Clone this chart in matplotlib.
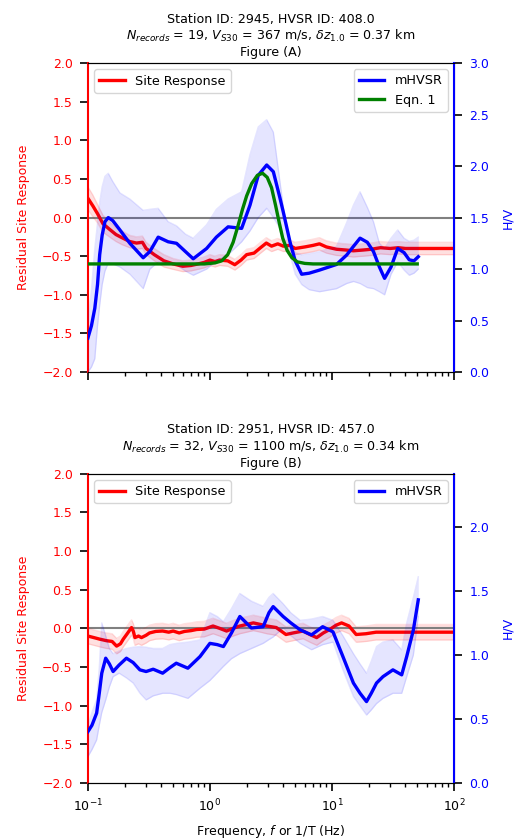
import numpy as np
import matplotlib.pyplot as plt

# ---------------- Figure (A): station 2945 ----------------
a_sr_f = [0.1, 0.11, 0.12, 0.133, 0.15, 0.17, 0.19, 0.22, 0.25, 0.28, 0.3, 0.35, 0.42,
          0.5, 0.6, 0.7, 0.8, 0.9, 1.0, 1.1, 1.2, 1.4, 1.6, 1.8, 2.0, 2.3, 2.6, 2.9,
          3.2, 3.6, 4.0, 4.5, 5.0, 6.0, 7.0, 7.9, 9.0, 10.9, 13.0, 15.0, 18.0, 21.0,
          25.0, 30.0, 35.0, 40.0, 50.0, 70.0, 100.0]
a_sr_v = [0.25, 0.15, 0.05, -0.08, -0.15, -0.22, -0.26, -0.31, -0.33, -0.32, -0.40, -0.48, -0.56,
          -0.60, -0.63, -0.62, -0.60, -0.58, -0.55, -0.57, -0.55, -0.56, -0.61, -0.55, -0.48, -0.46, -0.39, -0.33,
          -0.37, -0.34, -0.37, -0.36, -0.40, -0.38, -0.36, -0.34, -0.38, -0.41, -0.42, -0.43, -0.42, -0.41,
          -0.39, -0.40, -0.39, -0.40, -0.40, -0.40, -0.40]
a_sr_sd = [0.15, 0.14, 0.12, 0.11, 0.10, 0.09, 0.09, 0.08, 0.08, 0.08, 0.08, 0.08, 0.08,
           0.07, 0.07, 0.07, 0.07, 0.07, 0.07, 0.07, 0.07, 0.07, 0.07, 0.07, 0.07, 0.07, 0.07, 0.07,
           0.07, 0.07, 0.07, 0.07, 0.08, 0.08, 0.08, 0.08, 0.08, 0.08, 0.08, 0.08, 0.08, 0.08,
           0.08, 0.08, 0.08, 0.08, 0.08, 0.08, 0.08]

a_hv_f = [0.1, 0.107, 0.114, 0.12, 0.125, 0.131, 0.138, 0.147, 0.16, 0.183, 0.221, 0.284, 0.322,
          0.377, 0.455, 0.533, 0.63, 0.73, 0.94, 1.13, 1.41, 1.82, 2.13, 2.49, 2.92, 3.31,
          3.75, 4.0, 4.53, 5.0, 5.65, 6.5, 7.9, 10.9, 13.2, 15.0, 17.0, 19.5, 21.9, 24.5, 27.0,
          30.5, 34.6, 39.0, 43.0, 47.0, 51.0]
a_hv_h = [0.33, 0.45, 0.62, 0.85, 1.14, 1.33, 1.46, 1.50, 1.47, 1.38, 1.25, 1.11, 1.17,
          1.31, 1.265, 1.25, 1.17, 1.10, 1.20, 1.31, 1.41, 1.395, 1.62, 1.91, 2.01, 1.945,
          1.69, 1.55, 1.265, 1.08, 0.95, 0.96, 0.99, 1.045, 1.136, 1.22, 1.30, 1.26, 1.17, 1.02, 0.91,
          1.02, 1.20, 1.16, 1.09, 1.08, 1.12]
a_hv_lo = [0.0, 0.05, 0.13, 0.45, 0.65, 0.85, 0.98, 1.06, 1.05, 1.02, 0.95, 0.81, 1.0,
           1.07, 1.05, 1.04, 0.98, 0.94, 1.0, 1.08, 1.14, 1.265, 1.37, 1.50, 1.59, 1.50,
           1.395, 1.30, 1.14, 0.95, 0.85, 0.80, 0.78, 0.81, 0.86, 0.88, 0.86, 0.82, 0.81, 0.78, 0.75,
           0.95, 1.07, 0.99, 0.94, 0.96, 1.0]
a_hv_hi = [0.5, 0.8, 1.2, 1.45, 1.65, 1.8, 1.9, 1.93, 1.85, 1.74, 1.68, 1.57, 1.58,
           1.59, 1.46, 1.42, 1.34, 1.30, 1.43, 1.58, 1.68, 1.75, 2.11, 2.38, 2.45, 2.33,
           1.85, 1.60, 1.26, 1.16, 1.14, 1.15, 1.17, 1.22, 1.45, 1.62, 1.75, 1.60, 1.46, 1.25, 1.20,
           1.30, 1.38, 1.30, 1.27, 1.28, 1.31]

a_eq_f = [0.1, 0.3, 0.6, 0.9, 1.1, 1.25, 1.4, 1.55, 1.7, 1.85, 2.0, 2.2, 2.45, 2.7,
          2.95, 3.2, 3.45, 3.7, 3.95, 4.3, 4.7, 5.2, 6.0, 7.0, 9.0, 15.0, 50.0]
a_eq_h = [1.05, 1.05, 1.05, 1.05, 1.06, 1.08, 1.14, 1.26, 1.42, 1.58, 1.71, 1.83, 1.91, 1.93,
          1.89, 1.79, 1.62, 1.45, 1.30, 1.18, 1.11, 1.07, 1.055, 1.05, 1.05, 1.05, 1.05]

# ---------------- Figure (B): station 2951 ----------------
b_sr_f = [0.1, 0.112, 0.125, 0.142, 0.158, 0.172, 0.185, 0.195, 0.21, 0.228, 0.236, 0.243, 0.26,
          0.275, 0.3, 0.32, 0.36, 0.41, 0.46, 0.5, 0.56, 0.62, 0.7, 0.78, 0.9, 1.06, 1.2, 1.37,
          1.55, 1.76, 2.0, 2.27, 2.6, 2.92, 3.5, 4.2, 4.8, 5.8, 6.6, 7.5, 8.5, 9.6, 10.8, 12.0,
          13.8, 15.8, 19.0, 23.0, 30.0, 45.0, 70.0, 100.0]
b_sr_v = [-0.10, -0.12, -0.14, -0.16, -0.17, -0.23, -0.20, -0.14, -0.07, 0.01, -0.04, -0.12, -0.10,
          -0.12, -0.09, -0.06, -0.04, -0.035, -0.05, -0.035, -0.06, -0.04, -0.03, -0.015, -0.01, 0.03, 0.0, -0.035,
          0.0, 0.03, 0.05, 0.07, 0.05, 0.03, 0.01, -0.08, -0.06, -0.035, -0.08, -0.12, -0.06, -0.015, 0.04, 0.07,
          0.03, -0.08, -0.07, -0.05, -0.05, -0.05, -0.05, -0.05]
b_sr_sd = [0.1] * len(b_sr_f)

b_hv_f = [0.1, 0.108, 0.118, 0.124, 0.13, 0.14, 0.15, 0.161, 0.18, 0.207, 0.235, 0.267, 0.3,
          0.343, 0.41, 0.47, 0.53, 0.66, 0.83, 1.0, 1.15, 1.29, 1.5, 1.76, 2.19, 2.73, 3.05, 3.3,
          3.98, 4.6, 5.5, 6.8, 8.4, 10.2, 12.3, 15.0, 17.0, 19.2, 21.0, 23.2, 26.2, 31.6, 37.3,
          41.0, 46.5, 51.0]
b_hv_h = [0.40, 0.45, 0.545, 0.70, 0.857, 0.974, 0.93, 0.87, 0.92, 0.974, 0.94, 0.883, 0.87,
          0.888, 0.857, 0.90, 0.935, 0.896, 0.987, 1.09, 1.08, 1.065, 1.17, 1.30, 1.21, 1.22, 1.33, 1.377,
          1.30, 1.25, 1.195, 1.156, 1.22, 1.18, 0.987, 0.78, 0.70, 0.635, 0.70, 0.78, 0.83, 0.883, 0.844,
          0.987, 1.195, 1.43]
b_hv_lo = [0.205, 0.26, 0.336, 0.45, 0.55, 0.648, 0.75, 0.83, 0.857, 0.82, 0.78, 0.70, 0.648,
           0.68, 0.70, 0.70, 0.69, 0.66, 0.74, 0.80, 0.86, 0.91, 0.97, 1.01, 1.05, 1.09, 1.12, 1.14,
           1.21, 1.15, 1.09, 1.04, 1.08, 1.10, 0.883, 0.674, 0.60, 0.53, 0.57, 0.62, 0.66, 0.70, 0.70,
           0.83, 1.0, 1.30]
b_hv_hi = [0.45, 0.55, 0.65, 0.9, 1.25, 1.15, 1.05, 1.01, 1.03, 1.05, 1.06, 1.065, 1.06,
           1.05, 1.05, 1.08, 1.09, 1.10, 1.117, 1.33, 1.30, 1.26, 1.36, 1.48, 1.42, 1.38, 1.45, 1.48,
           1.40, 1.33, 1.27, 1.28, 1.30, 1.27, 1.15, 1.01, 0.93, 0.857, 0.95, 1.065, 1.10, 1.117, 1.04,
           1.25, 1.45, 1.61]


def style_axes(ax, ax2, hv_top):
    ax.set_xscale('log')
    ax.set_xlim(0.1, 100)
    ax.set_ylim(-2, 2)
    ax.set_yticks(np.arange(-2, 2.01, 0.5))
    ax.axhline(0, color='gray', lw=1.5, zorder=1)
    ax.set_ylabel('Residual Site Response', color='red', labelpad=9)
    ax.tick_params(axis='y', labelcolor='red')
    ax.spines['left'].set_color('red')
    ax.spines['left'].set_linewidth(1.5)
    ax2.set_ylim(0, hv_top)
    ax2.set_yticks(np.arange(0, hv_top + 0.01, 0.5))
    ax2.set_ylabel('H/V', color='blue', labelpad=9)
    ax2.tick_params(axis='y', labelcolor='blue')
    ax2.spines['right'].set_color('blue')
    ax2.spines['right'].set_linewidth(1.5)
    ax2.spines['left'].set_visible(False)
    for a in (ax, ax2):
        a.tick_params(which='major', length=5.5, width=1.2, pad=5.5)
        a.tick_params(which='minor', length=3, width=1)


def draw_panel(ax, sr_f, sr_v, sr_sd, hv_f, hv_h, hv_lo, hv_hi, title, hv_top,
               eq_f=None, eq_h=None):
    ax2 = ax.twinx()
    sr_v = np.array(sr_v)
    sr_sd = np.array(sr_sd)
    ax.fill_between(sr_f, sr_v - sr_sd, sr_v + sr_sd, color='red', alpha=0.12, lw=0)
    ax.plot(sr_f, sr_v - sr_sd, color='red', alpha=0.12, lw=1)
    ax.plot(sr_f, sr_v + sr_sd, color='red', alpha=0.12, lw=1)
    ax.plot(sr_f, sr_v, color='red', lw=2.4, label='Site Response', zorder=3)

    ax2.fill_between(hv_f, hv_lo, hv_hi, color='blue', alpha=0.1, lw=0)
    ax2.plot(hv_f, hv_lo, color='blue', alpha=0.1, lw=1)
    ax2.plot(hv_f, hv_hi, color='blue', alpha=0.1, lw=1)
    ax2.plot(hv_f, hv_h, color='blue', lw=2.4, label='mHVSR')
    if eq_f is not None:
        ax2.plot(eq_f, eq_h, color='green', lw=2.4, label='Eqn. 1')

    style_axes(ax, ax2, hv_top)
    ax.legend(loc='upper left', fontsize=9.2)
    ax2.legend(loc='upper right', fontsize=9.2)
    ax.set_title(title, pad=5, fontsize=9.1)
    return ax2


plt.rcParams['font.size'] = 9

fig = plt.figure(figsize=(5.23, 8.4), dpi=100)
ax_a = fig.add_axes([0.168, 0.557, 0.700, 0.368])
ax_b = fig.add_axes([0.168, 0.068, 0.700, 0.368])

draw_panel(ax_a, a_sr_f, a_sr_v, a_sr_sd, a_hv_f, a_hv_h, a_hv_lo, a_hv_hi,
           'Station ID: 2945, HVSR ID: 408.0\n'
           r'$N_{records}$ = 19, $V_{S30}$ = 367 m/s, $\delta z_{1.0}$ = 0.37 km'
           '\nFigure (A)', 3.0, a_eq_f, a_eq_h)
ax_a.set_xticklabels([])

draw_panel(ax_b, b_sr_f, b_sr_v, b_sr_sd, b_hv_f, b_hv_h, b_hv_lo, b_hv_hi,
           'Station ID: 2951, HVSR ID: 457.0\n'
           r'$N_{records}$ = 32, $V_{S30}$ = 1100 m/s, $\delta z_{1.0}$ = 0.34 km'
           '\nFigure (B)', 2.415)
ax_b.set_xlabel(r'Frequency, $f$ or 1/T (Hz)', labelpad=6)

fig.savefig('out.png', dpi=100, facecolor='white')
